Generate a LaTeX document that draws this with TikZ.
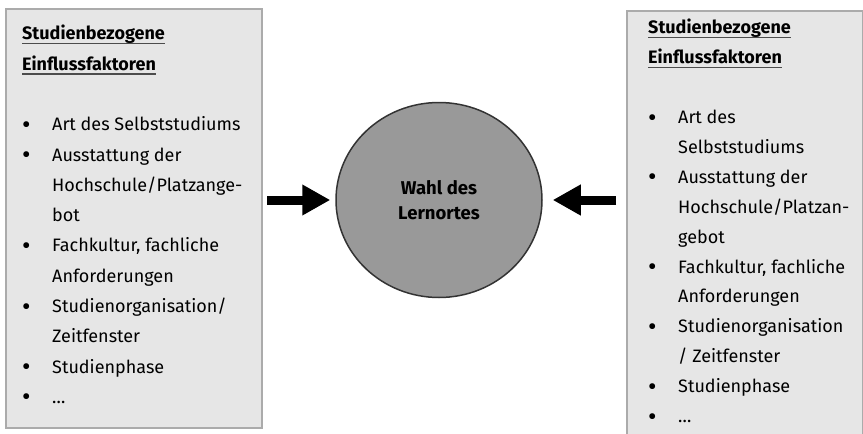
\documentclass[tikz,border=0pt]{standalone}
\usepackage{fontspec}
\setmainfont{Fira Sans}
\usetikzlibrary{arrows.meta,shapes.geometric}
\definecolor{boxgray}{HTML}{E6E6E6}
\definecolor{boxline}{HTML}{ABABAB}
\definecolor{ballgray}{HTML}{999999}
\newcommand{\bul}{\makebox[30pt][l]{\raisebox{-2.5pt}{\fontsize{26}{0}\selectfont\textbullet}}}
\newcommand{\ind}{\hspace*{30pt}}
\newcommand{\headline}[1]{\setbox0\hbox{\textbf{#1}}\rlap{\color{black!70}\rule[-4.5pt]{\wd0}{1.6pt}}\box0}
\begin{document}
\begin{tikzpicture}[x=1pt,y=-1pt,
  factorbox/.style={line width=2pt,fill=boxgray,minimum width=#1,inner sep=0pt},
  factortext/.style={anchor=north west,align=left,inner sep=0pt,font=\fontsize{18}{#1}\selectfont},
  fatarrow/.style={line width=9pt,-{Triangle[length=28pt,width=29pt]}}]
\useasboundingbox (0,0) rectangle (863,434);
% the two boxes
\node[factorbox=256pt,draw=boxline,minimum height=419pt] (lbox) at (134,218.5) {};
\node[factorbox=234pt,minimum height=422pt] (rbox) at (745,223) {};
\draw[boxline,line width=2pt] (rbox.south west) -- (rbox.north west) -- (rbox.north east) -- (rbox.south east);
% texts
\node[factortext=30.3] (ltext) at (22,25) {\headline{Studienbezogene}\\
  \headline{Einflussfaktoren}\\ ~\\
  \bul Art des Selbststudiums\\
  \bul Ausstattung der\\
  \ind Hochschule/Platzange-\\
  \ind bot\\
  \bul Fachkultur, fachliche\\
  \ind Anforderungen\\
  \bul Studienorganisation/\\
  \ind Zeitfenster\\
  \bul Studienphase\\
  \bul \dots};
\node[factortext=29.9] (rtext) at (648,19) {\headline{Studienbezogene}\\
  \headline{Einflussfaktoren}\\ ~\\
  \bul Art des\\
  \ind Selbststudiums\\
  \bul Ausstattung der\\
  \ind Hochschule/Platzan-\\
  \ind gebot\\
  \bul Fachkultur, fachliche\\
  \ind Anforderungen\\
  \bul Studienorganisation\\
  \ind / Zeitfenster\\
  \bul Studienphase\\
  \bul \dots};
% center
\node[ellipse,draw=black!80,line width=1.5pt,fill=ballgray,minimum width=206pt,minimum height=195pt,
  align=center,font=\bfseries\fontsize{18.5}{25}\selectfont] (wahl) at (439,200) {Wahl des\\Lernortes};
\draw[fatarrow,shorten <=4pt,shorten >=5pt] (lbox.east |- wahl.west) -- (wahl.west);
\draw[fatarrow,shorten <=11pt,shorten >=10pt] (rbox.west |- wahl.east) -- (wahl.east);
\end{tikzpicture}
\end{document}
